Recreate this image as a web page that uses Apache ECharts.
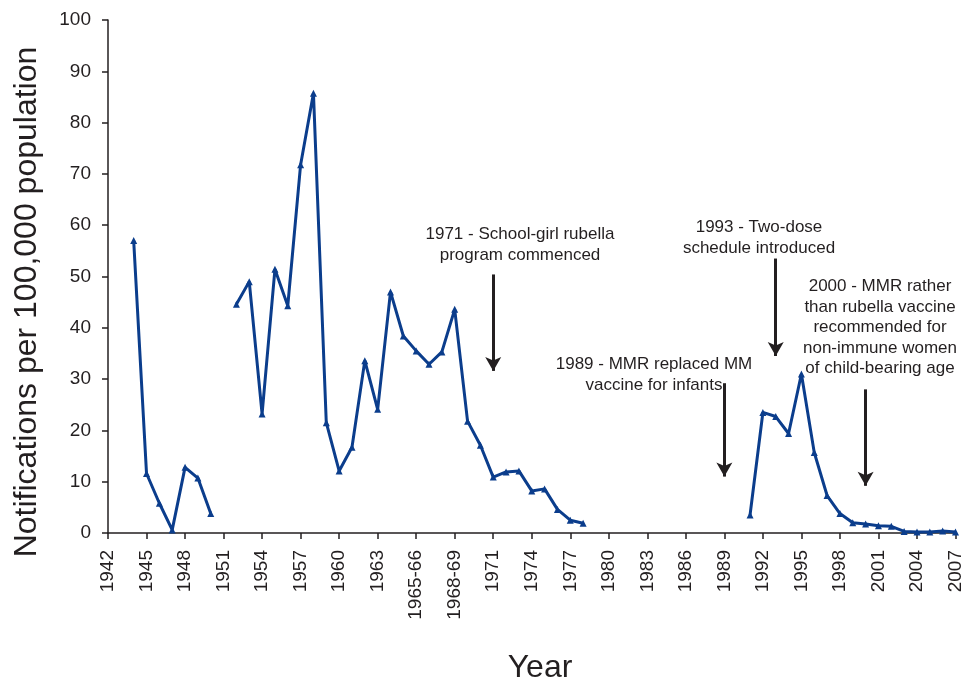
<!DOCTYPE html>
<html>
<head>
<meta charset="utf-8">
<script src="https://cdn.jsdelivr.net/npm/echarts@6/dist/echarts.min.js"></script>
<style>html,body{margin:0;padding:0;background:#fff}#c{width:965px;height:686px}</style>
</head>
<body>
<div id="c"></div>
<script>
var categories = ['1942','1943','1944','1945','1946','1947','1948','1949','1950','1951','1952','1953','1954','1955','1956','1957','1958','1959','1960','1961','1962','1963','1964','1964-65','1965-66','1966-67','1967-68','1968-69','1969-70','1970','1971','1972','1973','1974','1975','1976','1977','1978','1979','1980','1981','1982','1983','1984','1985','1986','1987','1988','1989','1990','1991','1992','1993','1994','1995','1996','1997','1998','1999','2000','2001','2002','2003','2004','2005','2006','2007'];
var rates = [null,null,57.0,11.6,5.8,0.6,12.8,10.7,3.8,null,44.6,49.0,23.2,51.4,44.3,71.8,85.7,21.5,12.1,16.7,33.6,24.1,47.0,38.4,35.5,32.9,35.3,43.6,21.8,17.1,10.9,11.9,12.1,8.2,8.6,4.6,2.5,1.9,null,null,null,null,null,null,null,null,null,null,null,null,3.5,23.5,22.7,19.4,31.0,15.7,7.3,3.8,2.0,1.75,1.4,1.3,0.3,0.2,0.2,0.4,0.2];
var yTicks = [0,10,20,30,40,50,60,70,80,90,100];
// arrows: [category index, start value, end value]
var arrows = [[30,50.4,31.6],[48,29.2,11.0],[52,53.5,34.5],[59,28.0,9.2]];
var notes = [
  '1971 - School-girl rubella\nprogram commenced',
  '1989 - MMR replaced MM\nvaccine for infants',
  '1993 - Two-dose\nschedule introduced',
  '2000 - MMR rather\nthan rubella vaccine\nrecommended for\nnon-immune women\nof child-bearing age'
];
var notePos = [[520,224],[654,354],[759,217],[880,276]];

var FONT = "'Liberation Sans', Arial, sans-serif";
var TXT = '#231f20';
var chart = echarts.init(document.getElementById('c'));
var graphics = notes.map(function(t,i){
  return {type:'text', x:notePos[i][0], y:notePos[i][1], silent:true,
    style:{text:t, fill:TXT, font:'17px '+FONT, lineHeight:20.6, align:'center', verticalAlign:'top'}};
});
graphics.push({type:'text', x:27, y:302, rotation:Math.PI/2, silent:true,
  style:{text:'Notifications per 100,000 population', fill:TXT, font:'32px '+FONT, align:'center', verticalAlign:'middle'}});
graphics.push({type:'text', x:540, y:668, silent:true,
  style:{text:'Year', fill:TXT, font:'32px '+FONT, align:'center', verticalAlign:'middle'}});

chart.setOption({
  animation:false,
  backgroundColor:'#fff',
  grid:{left:108,right:8,top:20,bottom:153,containLabel:false},
  xAxis:{type:'category', data:categories, boundaryGap:false,
    axisLine:{lineStyle:{color:TXT,width:1.5}},
    axisTick:{show:true,length:6,inside:false,interval:function(i){return i%3===0;},lineStyle:{color:TXT,width:1.5}},
    axisLabel:{rotate:90,margin:17,interval:function(i){return i%3===0;},color:TXT,fontSize:19,fontFamily:FONT},
    splitLine:{show:false}},
  yAxis:{type:'value', min:yTicks[0], max:yTicks[yTicks.length-1], interval:10,
    axisLine:{show:true,lineStyle:{color:TXT,width:1.5}},
    axisTick:{show:true,length:6,lineStyle:{color:TXT,width:1.5}},
    axisLabel:{margin:17,color:TXT,fontSize:19,fontFamily:FONT},
    splitLine:{show:false}},
  series:[{type:'line', data:rates, connectNulls:false,
    symbol:'triangle', symbolSize:7, showSymbol:true,
    itemStyle:{color:'#0b3d8c'},
    lineStyle:{color:'#0b3d8c',width:3},
    markLine:{silent:true, symbol:['none','arrow'], symbolSize:[12,14],
      label:{show:false},
      lineStyle:{color:TXT,width:3,type:'solid'},
      data:arrows.map(function(a){return [{coord:[a[0],a[1]]},{coord:[a[0],a[2]]}];})}
  }],
  graphic:graphics
});
</script>
</body>
</html>
